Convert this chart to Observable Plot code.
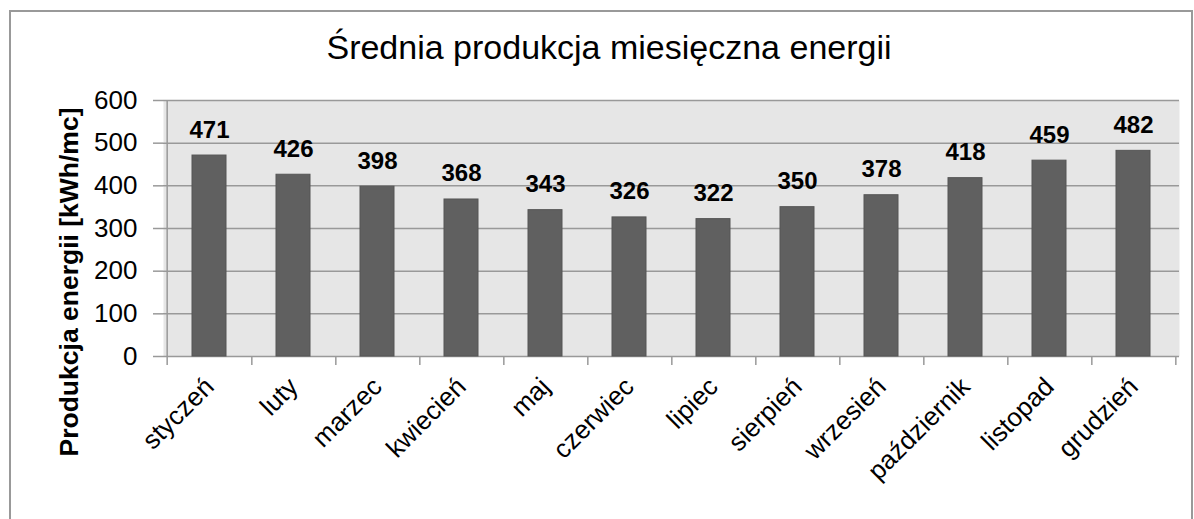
<!DOCTYPE html>
<html>
<head>
<meta charset="utf-8">
<script src="https://cdn.jsdelivr.net/npm/d3@7"></script>
<script src="https://cdn.jsdelivr.net/npm/@observablehq/plot@0.6"></script>
<style>
  html, body { margin: 0; padding: 0; background: #fff; }
  body { width: 1194px; height: 519px; position: relative; overflow: hidden; font-family: "Liberation Sans", Arial, sans-serif; }
  #border { position: absolute; left: 9px; top: 10px; width: 1184px; height: 540px; border: 2px solid #999; box-sizing: border-box; }
  #title { position: absolute; left: 0; top: 30px; width: 1218px; text-align: center; font-size: 34px; line-height: 34px; color: #000; white-space: nowrap; }
  #ylabel { position: absolute; left: 69px; top: 282px; transform: translate(-50%, -50%) rotate(-90deg); white-space: nowrap; font-weight: bold; font-size: 26.5px; color: #000; }
  #chart { position: absolute; left: 0; top: 0; }
</style>
</head>
<body>
<div id="border"></div>
<div id="chart"></div>
<div id="title">Średnia produkcja miesięczna energii</div>
<div id="ylabel">Produkcja energii [kWh/mc]</div>
<script>
const months = ["styczeń","luty","marzec","kwiecień","maj","czerwiec","lipiec","sierpień","wrzesień","październik","listopad","grudzień"];
const values = [471, 426, 398, 368, 343, 326, 322, 350, 378, 418, 459, 482];
const yTicks = [0, 100, 200, 300, 400, 500, 600];

const data = months.map((m, i) => ({month: m, value: values[i]}));

const W = 1194, H = 519;
const mL = 163, mR = 15, mT = 100, mB = 163;
const step = (W - mL - mR) / months.length;

const chart = Plot.plot({
  width: W,
  height: H,
  marginLeft: mL,
  marginRight: mR,
  marginTop: mT,
  marginBottom: mB,
  style: {fontFamily: "'Liberation Sans', Arial, sans-serif", background: "transparent", overflow: "visible"},
  x: {domain: months, paddingInner: 0.6, paddingOuter: 0.3},
  y: {domain: [0, 600]},
  marks: [
    Plot.frame({fill: "#e6e6e6", stroke: null}),
    Plot.ruleY(yTicks, {stroke: "#999", strokeWidth: 1.5}),
    Plot.ruleX([months[0]], {x: d => d, dx: -step / 2, y1: -21.2, y2: 600, stroke: "#999", strokeWidth: 1.5}),
    Plot.ruleX(months, {x: d => d, dx: step / 2, y1: -21.2, y2: 0, stroke: "#999", strokeWidth: 1.5}),
    Plot.barY(data, {x: "month", y: "value", fill: "#606060", stroke: "#555", strokeWidth: 1}),
    Plot.text(data, {x: "month", y: "value", text: d => String(d.value), dy: -18, lineAnchor: "bottom", fontSize: 24, fontWeight: "bold", fill: "#000"}),
    Plot.axisY({ticks: yTicks, tickSize: 10, tickPadding: 16, fontSize: 26, stroke: "#999", strokeWidth: 1.5, fill: "#000", label: null}),
    Plot.axisX({tickSize: 0, tickPadding: 26, tickRotate: -45, fontSize: 26, fill: "#000", label: null})
  ]
});
document.getElementById("chart").appendChild(chart);
</script>
</body>
</html>
